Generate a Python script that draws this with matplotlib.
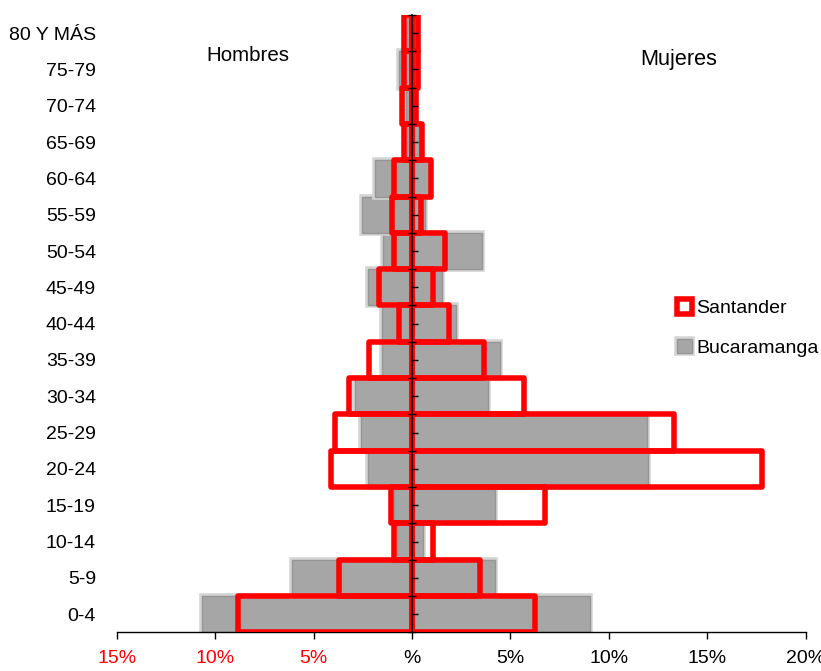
import matplotlib
matplotlib.use("Agg")
import matplotlib.pyplot as plt
import matplotlib.patheffects as pe
from matplotlib.patches import Patch
import numpy as np

plt.rcParams['font.family'] = ['Liberation Sans', 'DejaVu Sans']

grupos = ["0-4", "5-9", "10-14", "15-19", "20-24", "25-29", "30-34", "35-39",
          "40-44", "45-49", "50-54", "55-59", "60-64", "65-69", "70-74",
          "75-79", "80 Y MÁS"]

# Porcentajes por grupo de edad (hombres a la izquierda, mujeres a la derecha)
santander_hombres = [8.83, 3.73, 0.90, 1.07, 4.12, 3.93, 3.22, 2.16, 0.68,
                     1.66, 0.89, 0.99, 0.89, 0.40, 0.49, 0.40, 0.40]
santander_mujeres = [6.23, 3.44, 1.05, 6.78, 17.8, 13.3, 5.71, 3.64, 1.86,
                     1.08, 1.69, 0.46, 0.98, 0.50, 0.22, 0.31, 0.31]
bucaramanga_hombres = [10.65, 6.10, 0.76, 0.93, 2.24, 2.59, 2.92, 1.53, 1.53,
                       2.22, 1.47, 2.52, 1.90, 0.25, 0.30, 0.65, 0.25]
bucaramanga_mujeres = [9.06, 4.20, 0.56, 4.20, 12.0, 11.95, 3.85, 4.49, 2.25,
                       1.53, 3.56, 0.64, 0.85, 0.35, 0.15, 0.30, 0.30]

x_ticks = [-15, -10, -5, 0, 5, 10, 15, 20]
x_labels = ["15%", "10%", "5%", "%", "5%", "10%", "15%", "20%"]

FS = 14.0
GRIS = "#a6a6a6"
ROJO = "#ff0000"

fig = plt.figure(figsize=(8.21, 6.71), dpi=100)
ax = fig.add_axes([116.7 / 821, 1 - 632.3 / 671, 689 / 821, 617.3 / 671])

y = np.arange(len(grupos))
gris_fx = [pe.Stroke(linewidth=4, foreground="#d4d4d4"), pe.Normal()]

for vals, sign in ((bucaramanga_hombres, -1), (bucaramanga_mujeres, 1)):
    bars = ax.barh(y, sign * np.array(vals), height=1.0, color=GRIS,
                   edgecolor="#969696", linewidth=1.0, zorder=2)
    for b in bars:
        b.set_path_effects(gris_fx)

for vals, sign in ((santander_hombres, -1), (santander_mujeres, 1)):
    ax.barh(y, sign * np.array(vals), height=1.0, facecolor="none",
            edgecolor=ROJO, linewidth=4.0, joinstyle="round", zorder=3)

ax.set_xlim(-15, 20)
ax.set_ylim(-0.5, len(grupos) - 0.5)

for s in ("top", "right", "left"):
    ax.spines[s].set_visible(False)
ax.spines["bottom"].set_linewidth(1.0)

ax.set_xticks(x_ticks)
ax.set_xticklabels(x_labels, fontsize=FS)
for lbl, v in zip(ax.get_xticklabels(), x_ticks):
    lbl.set_color(ROJO if v < 0 else "black")
ax.tick_params(axis="x", length=5, width=1, pad=8, direction="out")

ax.set_yticks(y)
ax.set_yticklabels(grupos, fontsize=FS)
ax.tick_params(axis="y", length=0, pad=15)

# Eje vertical en el 0 con marcas entre grupos
pos0 = (0 - (-15)) / 35
sec = ax.secondary_yaxis(pos0)
sec.set_yticks(np.arange(-0.5, len(grupos), 1.0))
sec.set_yticks(y, minor=True)
sec.set_yticklabels([])
sec.tick_params(axis="y", which="major", direction="inout", length=6, width=1)
sec.tick_params(axis="y", which="minor", direction="in", length=4, width=1)
sec.yaxis.set_minor_formatter(plt.NullFormatter())
sec.spines["left"].set_linewidth(1.2)
sec.set_zorder(5)

ax.text(0.1906, 0.934, "Hombres", transform=ax.transAxes, fontsize=14.8,
        ha="center", va="center")
ax.text(0.816, 0.928, "Mujeres", transform=ax.transAxes, fontsize=15.6,
        ha="center", va="center")

h_sant = Patch(facecolor="white", edgecolor=ROJO, linewidth=4.0,
               label="Santander")
h_buc = Patch(facecolor=GRIS, edgecolor="#969696", linewidth=1.0,
              path_effects=gris_fx, label="Bucaramanga")
fig.legend(handles=[h_sant, h_buc], loc="center left",
           bbox_to_anchor=(677 / 821, 1 - 328 / 671), frameon=False,
           fontsize=FS, handlelength=0.75, handleheight=0.75,
           handletextpad=0.25, labelspacing=1.1, borderpad=0,
           borderaxespad=0)

fig.savefig("out.png", dpi=100)
